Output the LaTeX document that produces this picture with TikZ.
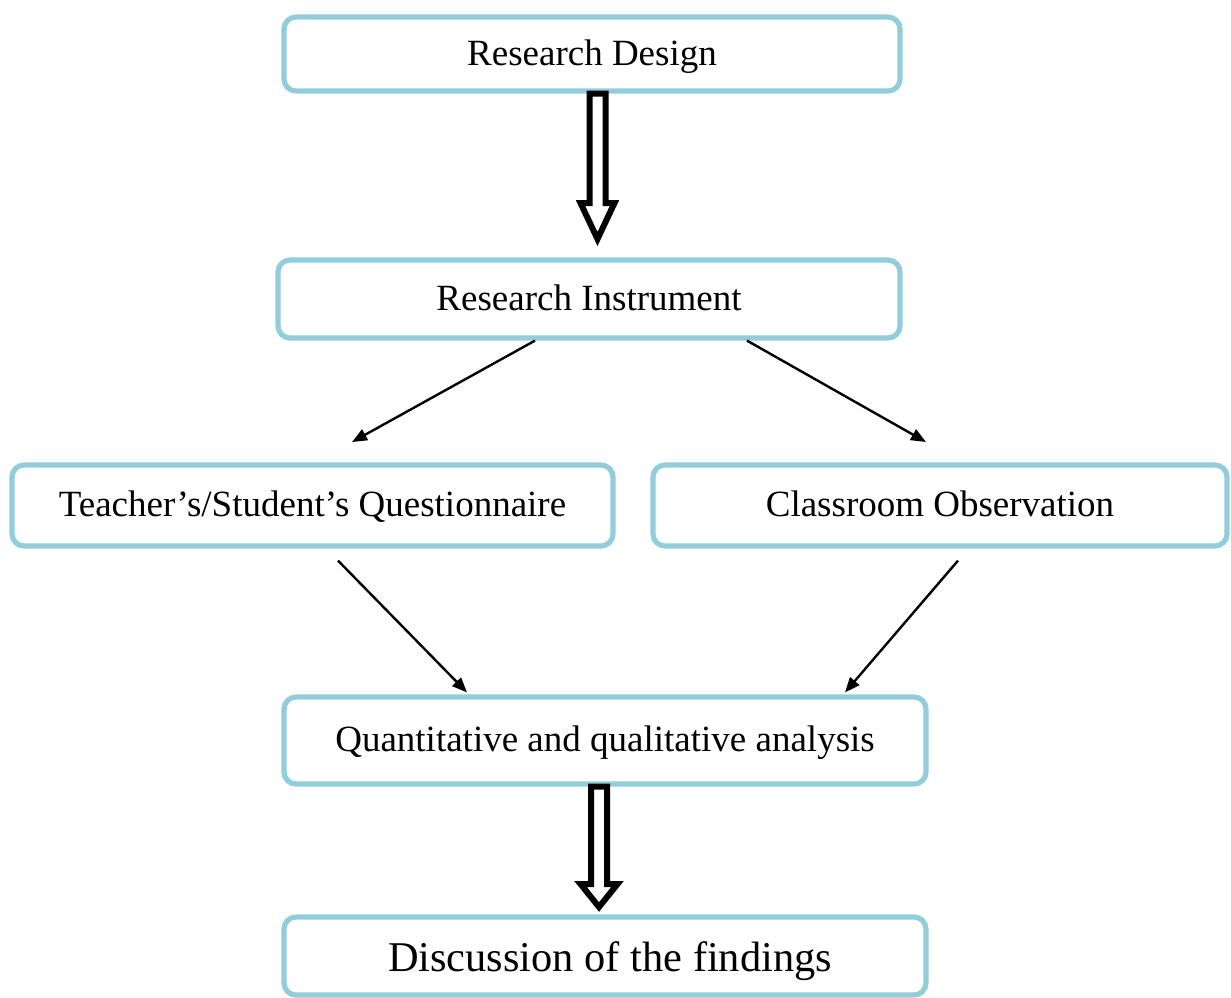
\documentclass[tikz,border=0pt]{standalone}
\usepackage{fontspec}
\setmainfont{Liberation Serif}
\usetikzlibrary{arrows.meta,calc}
\definecolor{boxblue}{RGB}{146,205,220}
\newcommand{\hollowarrow}[4]{\draw[hollow] let \p1=(#1), \p2=(#2) in
    (\x2-4pt,\y1) -- (\x2-4pt,\y2+#3) -- (\x2-#4,\y2+#3) -- (\x2,\y2)
    -- (\x2+#4,\y2+#3) -- (\x2+4pt,\y2+#3) -- (\x2+4pt,\y1) -- cycle;}
\tikzset{
            stage/.style={draw=boxblue, line width=2.6pt, rounded corners=6pt,
                          inner sep=0pt, text height=11pt, text depth=0pt,
                          font=\fontsize{18.5}{22}\selectfont},
            hollow/.style={draw=black, line width=3pt, fill=white, line join=miter},
            thin/.style={line width=1.2pt, -{Triangle[length=7.5pt,width=6pt]}}
        }
\begin{document}
\begin{tikzpicture}[
                    x=0.5pt, y=-0.5pt
                    ]
                \useasboundingbox (0,0) rectangle (1231,997);
                \node[stage, minimum width=308pt, minimum height=37pt] (design) at (592,54) {Research Design};
                \node[stage, minimum width=311pt, minimum height=39pt] (instr) at (589,299) {Research Instrument};
                \node[stage, minimum width=300.5pt, minimum height=40.5pt] (quest) at (312.5,505.5) {Teacher’s/Student’s Questionnaire};
                \node[stage, minimum width=287pt, minimum height=40.5pt] (obs) at (940,505.5) {Classroom Observation};
                \node[stage, minimum width=321pt, minimum height=43.5pt] (quant) at (605,740.5) {Quantitative and qualitative analysis};
                \node[stage, minimum width=321pt, minimum height=39pt, text height=15.7pt, font=\fontsize{21.2}{25}\selectfont] (disc) at (605,956) {\hspace*{5pt}Discussion of the findings};
                \coordinate (tip1) at (597.5,239);
                \coordinate (tip2) at (599,907);
                \coordinate (quest-in) at (352,442);
                \coordinate (obs-in) at (926,442);
                \hollowarrow{design.south}{tip1}{18pt}{8.5pt}
                \hollowarrow{quant.south}{tip2}{11.5pt}{9.25pt}
                \draw[thin] ([xshift=-27pt]instr.south) -- (quest-in);
                \draw[thin] ([xshift=79pt]instr.south) -- (obs-in);
                \draw[thin] ([xshift=12.75pt,yshift=-6pt]quest.south) -- ([xshift=-69pt,yshift=1pt]quant.north);
                \draw[thin] ([xshift=9pt,yshift=-6pt]obs.south) -- ([xshift=120pt,yshift=1pt]quant.north);
            \end{tikzpicture}
\end{document}
